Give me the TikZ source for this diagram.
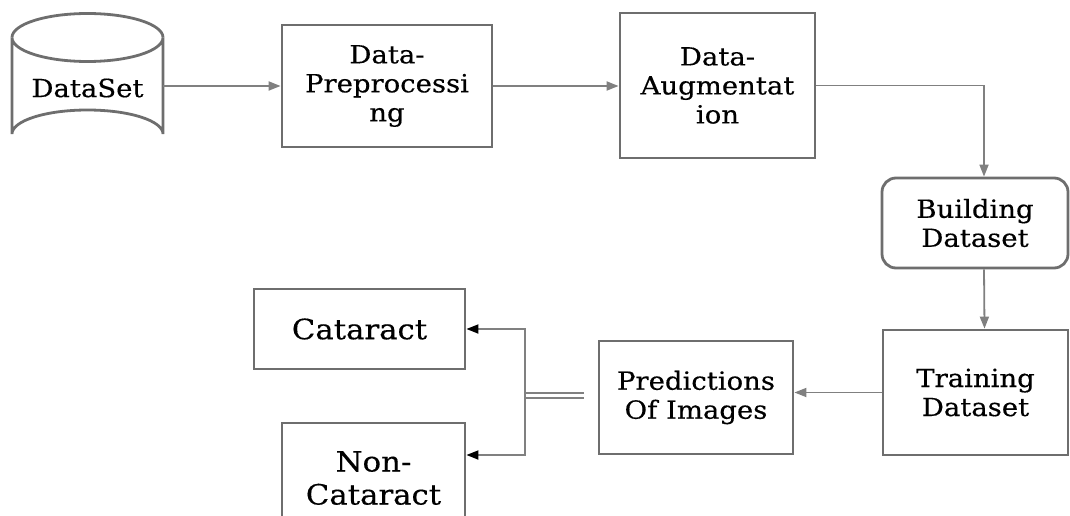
\documentclass[tikz,border=0pt]{standalone}
\usepackage{fontspec}
\setmainfont[FakeStretch=1.1,FakeBold=0.4]{DejaVu Serif}
\usetikzlibrary{arrows.meta}
\definecolor{boxgray}{HTML}{6E6E6E}
\definecolor{linegray}{HTML}{808080}
\begin{document}
\begin{tikzpicture}[x=1pt,y=-1pt,
  box/.style={draw=boxgray, line width=2.8pt, fill=white, align=center, inner sep=0pt,
    font=\fontsize{25}{29}\selectfont},
  bigtext/.style={font=\fontsize{28}{33}\selectfont},
  conn/.style={draw=linegray, line width=1.8pt, -{Triangle[length=12pt,width=9pt]}},
  darkconn/.style={draw=linegray, line width=1.8pt, -{Triangle[length=12pt,width=9pt,color=black]}},
]
\useasboundingbox (0,0) rectangle (1070,516);
% cylinder
\draw[boxgray, line width=2.8pt, fill=white]
  (12,37.5) -- (12,134) arc[start angle=180, end angle=360, x radius=75.5, y radius=24]
  -- (163,37.5) arc[start angle=0, end angle=180, x radius=75.5, y radius=24] -- cycle;
\draw[boxgray, line width=2.8pt] (12,37.5) arc[start angle=180, end angle=360, x radius=75.5, y radius=24];
\node[align=center, inner sep=0pt, minimum width=151pt, minimum height=100pt,
  font=\fontsize{25}{29}\selectfont] (ds) at (87.5,88) {DataSet};

\node[box, minimum width=210pt, minimum height=122pt] (prep) at (387,86) {Data-\\Preprocessi\\ng};
\node[box, minimum width=195pt, minimum height=145pt] (aug) at (717.5,85.5) {Data-\\Augmentat\\ion};
\node[box, rounded corners=14pt, minimum width=186pt, minimum height=90pt] (build) at (975,223) {Building\\Dataset};
\node[box, minimum width=185pt, minimum height=125pt] (train) at (975.5,392.5) {Training\\Dataset};
\node[box, minimum width=194pt, minimum height=113pt] (pred) at (696,397.5) {Predictions\\Of Images};
\node[box, bigtext, minimum width=211pt, minimum height=80pt] (cat) at (359.5,329) {Cataract};
\node[box, bigtext, minimum width=183pt, minimum height=110pt] (noncat) at (373.5,478) {Non-\\Cataract};

\coordinate (split) at (525,395.5);

\draw[conn] (ds.east |- prep.west) -- (prep.west);
\draw[conn] (prep.east) -- (prep.east -| aug.west);
\draw[conn] (aug.east) -| ([xshift=9pt]build.north);
\draw[conn] ([xshift=9pt]build.south) -- ([xshift=9pt]train.north);
\draw[conn] (train.west) -- (train.west -| pred.east);
\draw[linegray, line width=1.4pt, double, double distance=3.5pt] (split) -- ([xshift=-14pt]pred.west |- split);
\draw[darkconn] (split) |- (cat.east);
\draw[darkconn] (split) |- ([yshift=23pt]noncat.east);
\end{tikzpicture}
\end{document}
